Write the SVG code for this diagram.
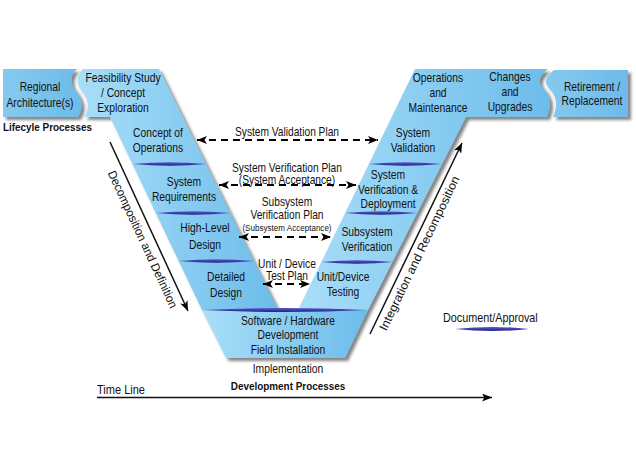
<svg xmlns="http://www.w3.org/2000/svg" width="636" height="471" viewBox="0 0 636 471">
<defs>
<linearGradient id="gB" x1="0" y1="0" x2="1" y2="0"><stop offset="0" stop-color="#a9def8"/><stop offset="1" stop-color="#6cbceb"/></linearGradient>
<linearGradient id="gBox" x1="0" y1="0" x2="1" y2="0"><stop offset="0" stop-color="#86c9ef"/><stop offset="1" stop-color="#6cbbea"/></linearGradient>
<linearGradient id="gDiv" x1="0" y1="0" x2="0" y2="1"><stop offset="0" stop-color="#5a5acc"/><stop offset="1" stop-color="#22228a"/></linearGradient>
<filter id="sh" x="-10%" y="-10%" width="130%" height="130%"><feDropShadow dx="3" dy="3" stdDeviation="1.8" flood-color="#333" flood-opacity="0.6"/></filter>
<marker id="ah" viewBox="0 0 10 8" refX="10" refY="4" markerWidth="10" markerHeight="8" markerUnits="userSpaceOnUse" orient="auto-start-reverse"><path d="M0,0 L10,4 L0,8 L2.5,4 Z" fill="#000"/></marker>
</defs>
<style>
.t{font-family:"Liberation Sans",Arial,Helvetica,sans-serif;font-size:12px;fill:#111;text-anchor:middle}
.s{font-size:9.5px}
.b{font-weight:bold}
.st{text-anchor:start}
.dash{stroke:#000;stroke-width:1.8;stroke-dasharray:7 5;fill:none;marker-start:url(#ah);marker-end:url(#ah)}
.ln{stroke:#111;stroke-width:1.5;fill:none;marker-end:url(#ah)}
.dv{fill:url(#gDiv)}
</style>
<rect width="636" height="471" fill="#fff"/>

<g id="shapes" filter="url(#sh)">
  <path id="box-regional" d="M3,69 L77,69 C71,74 69,82 75,90 C81,97 85,106 78,117 L3,117 Z" fill="url(#gBox)"/>
  <path id="arm-left" d="M83,69 L159,69 L278,310 L202,310 L110,117 L84,117 C91,106 87,97 81,90 C75,82 77,74 83,69 Z" fill="url(#gB)"/>
  <path id="arm-bottom" d="M202,310 L368,310 L345,358 L226,358 Z" fill="url(#gB)"/>
  <path id="arm-right" d="M298,310 L415,69 L548,69 C540,75 537,82 543,88 C549,94 553,103 547,117 L466,117 L368,310 Z" fill="url(#gB)"/>
  <path id="box-retire" d="M554,70 L628,70 L628,117 L553,117 C559,103 555,94 549,88 C543,82 546,76 554,70 Z" fill="url(#gBox)"/>
</g>

<g id="dividers">
  <path class="dv" d="M133,164 Q170,160.5 206,164 Q170,167.5 133,164 Z"/>
  <path class="dv" d="M156,213 Q193,209.5 230,213 Q193,216.5 156,213 Z"/>
  <path class="dv" d="M179,261 Q216,257.5 254,261 Q216,264.5 179,261 Z"/>
  <path class="dv" d="M203,310 Q285,306 367,310 Q285,314 203,310 Z"/>
  <path class="dv" d="M369,164 Q405,160.5 442,164 Q405,167.5 369,164 Z"/>
  <path class="dv" d="M345,213 Q381,209.5 417,213 Q381,216.5 345,213 Z"/>
  <path class="dv" d="M321,262 Q357,258.5 393,262 Q357,265.5 321,262 Z"/>
</g>

<g id="n-regional" transform="translate(40 0) scale(.86 1)"><text class="t" x="0" y="91">Regional</text><text class="t" x="0" y="107">Architecture(s)</text></g>
<g id="n-feasibility" transform="translate(123 0) scale(.86 1)"><text class="t" x="0" y="82">Feasibility Study</text><text class="t" x="0" y="97">/ Concept</text><text class="t" x="0" y="112">Exploration</text></g>
<g id="n-concept" transform="translate(158 0) scale(.86 1)"><text class="t" x="0" y="137">Concept of</text><text class="t" x="0" y="152">Operations</text></g>
<g id="n-sysreq" transform="translate(184 0) scale(.86 1)"><text class="t" x="0" y="186">System</text><text class="t" x="0" y="201">Requirements</text></g>
<g id="n-hld" transform="translate(205 0) scale(.86 1)"><text class="t" x="0" y="232">High-Level</text><text class="t" x="0" y="249">Design</text></g>
<g id="n-detailed" transform="translate(226 0) scale(.86 1)"><text class="t" x="0" y="281">Detailed</text><text class="t" x="0" y="297">Design</text></g>
<g id="n-impl" transform="translate(288 0) scale(.86 1)"><text class="t" x="0" y="325">Software / Hardware</text><text class="t" x="0" y="339">Development</text><text class="t" x="0" y="354">Field Installation</text><text class="t" x="0" y="373">Implementation</text></g>
<g id="n-unittest" transform="translate(343 0) scale(.86 1)"><text class="t" x="0" y="281">Unit/Device</text><text class="t" x="0" y="296">Testing</text></g>
<g id="n-subver" transform="translate(367 0) scale(.86 1)"><text class="t" x="0" y="236">Subsystem</text><text class="t" x="0" y="251">Verification</text></g>
<g id="n-sysver" transform="translate(388 0) scale(.86 1)"><text class="t" x="0" y="179">System</text><text class="t" x="0" y="194">Verification &amp;</text><text class="t" x="0" y="208">Deployment</text></g>
<g id="n-sysval" transform="translate(413 0) scale(.86 1)"><text class="t" x="0" y="137">System</text><text class="t" x="0" y="152">Validation</text></g>
<g id="n-ops" transform="translate(438 0) scale(.86 1)"><text class="t" x="0" y="82">Operations</text><text class="t" x="0" y="97">and</text><text class="t" x="0" y="112">Maintenance</text></g>
<g id="n-changes" transform="translate(510 0) scale(.86 1)"><text class="t" x="0" y="81">Changes</text><text class="t" x="0" y="96">and</text><text class="t" x="0" y="111">Upgrades</text></g>
<g id="n-retire" transform="translate(592 0) scale(.86 1)"><text class="t" x="0" y="91">Retirement /</text><text class="t" x="0" y="105">Replacement</text></g>

<g id="connectors">
  <line class="dash" x1="197" y1="140" x2="378" y2="140"/>
  <line class="dash" x1="219" y1="185" x2="356" y2="185"/>
  <line class="dash" x1="239" y1="237" x2="331" y2="237"/>
  <line class="dash" x1="263" y1="284" x2="310" y2="284"/>
  <line class="ln" x1="110" y1="142" x2="188" y2="311"/>
  <line class="ln" x1="370" y1="334" x2="462" y2="143"/>
  <line class="ln" x1="97" y1="397.5" x2="492" y2="397.5"/>
</g>

<g id="plan-labels" transform="translate(287 0) scale(.85 1)">
  <text class="t" x="0" y="136">System Validation Plan</text>
  <text class="t" x="0" y="172">System Verification Plan</text>
  <text class="t" x="0" y="184">(System Acceptance)</text>
  <text class="t" x="0" y="206">Subsystem</text>
  <text class="t" x="0" y="219">Verification Plan</text>
  <text class="t s" x="0" y="231">(Subsystem Acceptance)</text>
  <text class="t" x="0" y="268">Unit / Device</text>
  <text class="t" x="0" y="280">Test Plan</text>
</g>

<g id="axis-labels">
  <g transform="translate(139 241) rotate(65.2)"><text class="t" x="0" y="0" textLength="150" lengthAdjust="spacingAndGlyphs">Decomposition and Definition</text></g>
  <g transform="translate(423 255) rotate(-64.3)"><text class="t" x="0" y="0" textLength="170" lengthAdjust="spacingAndGlyphs">Integration and Recomposition</text></g>
  <g transform="translate(3 0) scale(.9 1)"><text class="t b st" x="0" y="131" style="font-size:11px">Lifecyle Processes</text></g>
  <g transform="translate(288 0) scale(.9 1)"><text class="t b" x="0" y="390" style="font-size:11px">Development Processes</text></g>
  <g transform="translate(97 0) scale(.92 1)"><text class="t st" x="0" y="394">Time Line</text></g>
</g>

<g id="legend">
  <g transform="translate(443 0) scale(.9 1)"><text class="t st" x="0" y="322">Document/Approval</text></g>
  <path class="dv" d="M455,329 Q492,325 529,329 Q492,333 455,329 Z"/>
</g>
</svg>
